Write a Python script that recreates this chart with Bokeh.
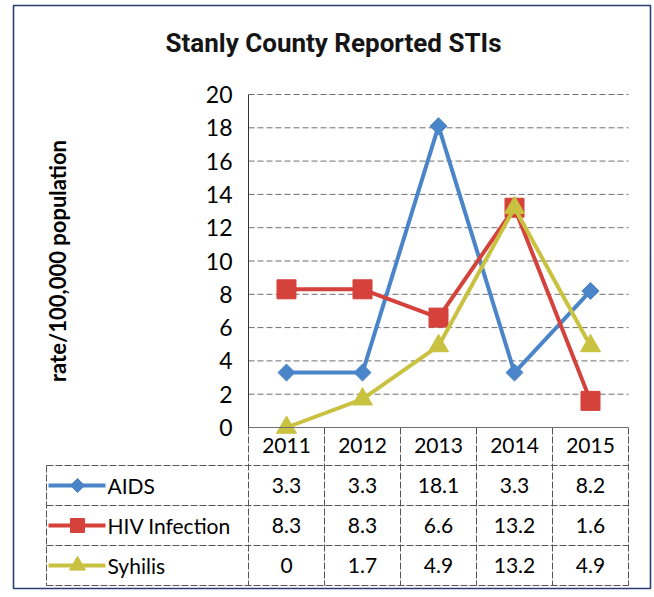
from bokeh.plotting import figure
from bokeh.models import Range1d, FixedTicker, LinearAxis
from bokeh.embed import file_html
from bokeh.resources import INLINE
from bokeh.core.properties import value

# ---- data ----
years = ["2011", "2012", "2013", "2014", "2015"]
series_names = ["AIDS", "HIV Infection", "Syhilis"]
aids = [3.3, 3.3, 18.1, 3.3, 8.2]
hiv = [8.3, 8.3, 6.6, 13.2, 1.6]
syphilis = [0, 1.7, 4.9, 13.2, 4.9]
y_ticks = [0, 2, 4, 6, 8, 10, 12, 14, 16, 18, 20]
title_text = "Stanly County Reported STIs"
y_title = "rate/100,000 population"

# ---- styles ----
colors = ["#4a84c9", "#d5413b", "#c9c241"]
FONT = "Lato"
TITLE_FONT = "Roboto"
GRID = "#6f6f6f"
TABLE_LINE = "#555555"
BORDER = "#2c3e75"

all_series = [aids, hiv, syphilis]
xs = list(range(1, len(years) + 1))

# canvas-pixel -> data helpers (layout only: category column 1 centre at x=286px,
# value 0 at y=427px, 76 px per category, 16.65 px per unit)
def xd(px):
    return 1 + (px - 286) / 76.0

def yd(py):
    return (427 - py) / 16.65

W, H = 652, 595
p = figure(width=W, height=H, x_range=Range1d(xd(0), xd(W)), y_range=Range1d(yd(H), yd(0)),
           output_backend="svg", toolbar_location=None, min_border=0,
           x_axis_location=None, y_axis_location=None)
p.xgrid.visible = False
p.ygrid.visible = False
p.background_fill_color = "white"
p.border_fill_color = "white"
p.outline_line_color = None

# outer border of the chart area
p.quad(left=[xd(13)], right=[xd(650)], top=[yd(5)], bottom=[yd(588)],
       fill_color=None, line_color=BORDER, line_width=1.6)

# gridlines
grid_vals = y_ticks[1:]
p.segment(x0=[0.5] * len(grid_vals), y0=grid_vals, x1=[xs[-1] + 0.5] * len(grid_vals), y1=grid_vals,
          line_color=GRID, line_width=1, line_dash="6 3")

# y axis
yax = LinearAxis(fixed_location=0.5, bounds=(y_ticks[0], y_ticks[-1]),
                 ticker=FixedTicker(ticks=y_ticks, minor_ticks=[]))
yax.major_tick_out = 0
yax.major_tick_in = 0
yax.axis_line_color = "#333333"
yax.major_label_standoff = 16
yax.major_label_text_font = FONT
yax.major_label_text_font_size = "23px"
yax.major_label_text_color = "black"
yax.axis_label = y_title
yax.axis_label_text_font = FONT
yax.axis_label_text_font_style = "bold"
yax.axis_label_text_font_size = "22px"
yax.axis_label_text_color = "black"
yax.axis_label_standoff = 132
p.add_layout(yax, "left")

# x axis (category labels = table header)
xax = LinearAxis(fixed_location=0, bounds=(0.5, xs[-1] + 0.5),
                 ticker=FixedTicker(ticks=xs, minor_ticks=[]))
xax.major_label_overrides = {x: y for x, y in zip(xs, years)}
xax.major_tick_out = 0
xax.major_tick_in = 0
xax.axis_line_color = GRID
xax.major_label_standoff = 10
xax.major_label_text_font = FONT
xax.major_label_text_font_size = "21px"
xax.major_label_text_color = "black"
p.add_layout(xax, "below")

# title
p.text(x=[xd(333)], y=[yd(42)], text=[title_text], text_align="center", text_baseline="middle",
       text_font=value(TITLE_FONT), text_font_size="26px", text_font_style="bold", text_color="#151515")

# ---- data table ----
n_rows = len(series_names)
row_lines = [yd(465 + 40 * i) for i in range(n_rows + 1)]
row_mid = [yd(485 + 40 * i) for i in range(n_rows)]
x_left = xd(46)
p.segment(x0=[x_left] * len(row_lines), y0=row_lines, x1=[xs[-1] + 0.5] * len(row_lines), y1=row_lines,
          line_color=TABLE_LINE, line_width=1, line_dash="7 2")
vx = [x - 0.5 for x in xs] + [xs[-1] + 0.5]
p.segment(x0=vx, y0=[0] * len(vx), x1=vx, y1=[row_lines[-1]] * len(vx),
          line_color=TABLE_LINE, line_width=1, line_dash="7 2")
p.segment(x0=[x_left], y0=[row_lines[0]], x1=[x_left], y1=[row_lines[-1]],
          line_color=TABLE_LINE, line_width=1, line_dash="7 2")

def fmt(v):
    return f"{v:g}"

key_markers = [dict(marker="square", angle=0.785, size=10),
               dict(marker="square", size=14),
               dict(marker="triangle", size=16)]
for r, (name, vals) in enumerate(zip(series_names, all_series)):
    yc = row_mid[r]
    p.text(x=xs, y=[yc] * len(xs), text=[fmt(v) for v in vals],
           text_align="center", text_baseline="middle", text_font=value(FONT),
           text_font_size="21px", text_color="black")
    p.line([xd(48), xd(105)], [yc, yc], line_color=colors[r], line_width=4)
    p.scatter([xd(77)], [yc], fill_color=colors[r], line_color=colors[r], **key_markers[r])
    p.text(x=[xd(107)], y=[yc], text=[name], text_align="left", text_baseline="middle",
           text_font=value(FONT), text_font_size="21px", text_color="black")

# ---- series ----
p.line(xs, aids, line_color=colors[0], line_width=4)
p.scatter(xs, aids, marker="square", angle=0.785, size=12, fill_color=colors[0], line_color=colors[0])
p.line(xs, hiv, line_color=colors[1], line_width=4)
p.scatter(xs, hiv, marker="square", size=19, fill_color=colors[1], line_color=colors[1])
p.line(xs, syphilis, line_color=colors[2], line_width=4)
p.scatter(xs, syphilis, marker="triangle", size=20, fill_color=colors[2], line_color=colors[2])

open("out.html", "w").write(file_html(p, INLINE))
